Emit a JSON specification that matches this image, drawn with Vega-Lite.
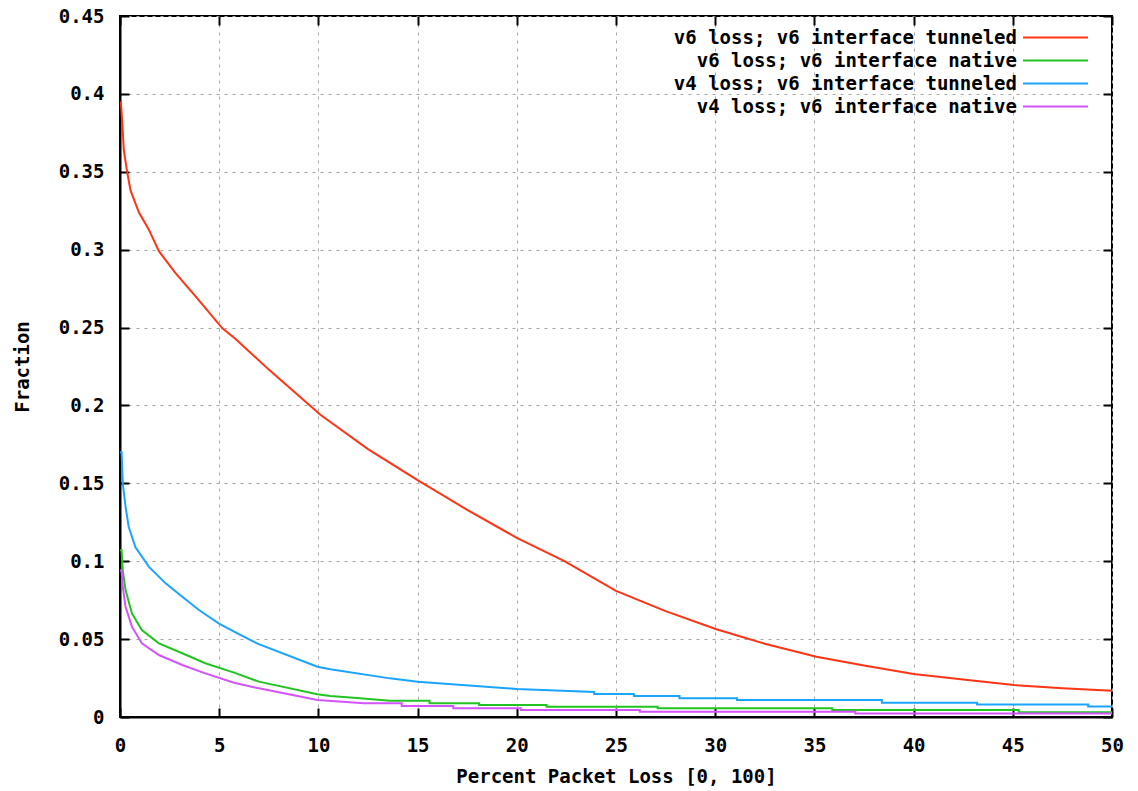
{
  "$schema": "https://vega.github.io/schema/vega-lite/v6.json",
  "autosize": {"type": "none"},
  "padding": {"left": 120, "top": 16, "right": 26, "bottom": 74},
  "width": 992,
  "height": 701,
  "background": "white",
  "config": {
    "view": {"stroke": "#000000", "strokeWidth": 2},
    "font": "DejaVu Sans Mono",
    "axis": {
      "labelFont": "DejaVu Sans Mono", "labelFontWeight": "bold", "labelFontSize": 19, "labelColor": "#000000",
      "titleFont": "DejaVu Sans Mono", "titleFontWeight": "bold", "titleFontSize": 19, "titleColor": "#000000",
      "domainColor": "#000000", "domainWidth": 2, "labelFlush": false,
      "tickColor": "#000000", "tickWidth": 2, "tickSize": -9,
      "gridColor": "#a8a8a8", "gridDash": [3, 5], "gridWidth": 1, "gridOpacity": 1
    },
    "legend": {
      "orient": "none", "legendX": 895, "legendY": 12, "padding": 0,
      "symbolType": "M-0.176,0H7.47", "symbolSize": 289, "symbolStrokeWidth": 2,
      "labelFont": "DejaVu Sans Mono", "labelFontWeight": "bold", "labelFontSize": 19, "labelColor": "#000000",
      "labelAlign": "right", "labelOffset": -17, "labelLimit": 600,
      "rowPadding": 3
    }
  },
  "data": {"values": [
    {"s": "v6 loss; v6 interface tunneled", "x": 0, "y": 0.395},
    {"s": "v6 loss; v6 interface tunneled", "x": 0.05, "y": 0.394},
    {"s": "v6 loss; v6 interface tunneled", "x": 0.14, "y": 0.376},
    {"s": "v6 loss; v6 interface tunneled", "x": 0.19, "y": 0.364},
    {"s": "v6 loss; v6 interface tunneled", "x": 0.36, "y": 0.35},
    {"s": "v6 loss; v6 interface tunneled", "x": 0.53, "y": 0.338},
    {"s": "v6 loss; v6 interface tunneled", "x": 0.95, "y": 0.324},
    {"s": "v6 loss; v6 interface tunneled", "x": 1.45, "y": 0.313},
    {"s": "v6 loss; v6 interface tunneled", "x": 1.96, "y": 0.299},
    {"s": "v6 loss; v6 interface tunneled", "x": 2.8, "y": 0.285},
    {"s": "v6 loss; v6 interface tunneled", "x": 3.81, "y": 0.27},
    {"s": "v6 loss; v6 interface tunneled", "x": 5.16, "y": 0.2495},
    {"s": "v6 loss; v6 interface tunneled", "x": 5.8, "y": 0.243},
    {"s": "v6 loss; v6 interface tunneled", "x": 7.5, "y": 0.223},
    {"s": "v6 loss; v6 interface tunneled", "x": 10.1, "y": 0.194},
    {"s": "v6 loss; v6 interface tunneled", "x": 12.5, "y": 0.172},
    {"s": "v6 loss; v6 interface tunneled", "x": 15, "y": 0.152},
    {"s": "v6 loss; v6 interface tunneled", "x": 17.5, "y": 0.133},
    {"s": "v6 loss; v6 interface tunneled", "x": 20, "y": 0.115},
    {"s": "v6 loss; v6 interface tunneled", "x": 22.4, "y": 0.1},
    {"s": "v6 loss; v6 interface tunneled", "x": 25, "y": 0.081},
    {"s": "v6 loss; v6 interface tunneled", "x": 27.5, "y": 0.068},
    {"s": "v6 loss; v6 interface tunneled", "x": 30.06, "y": 0.0563},
    {"s": "v6 loss; v6 interface tunneled", "x": 32.5, "y": 0.047},
    {"s": "v6 loss; v6 interface tunneled", "x": 35.1, "y": 0.0387},
    {"s": "v6 loss; v6 interface tunneled", "x": 37.5, "y": 0.033},
    {"s": "v6 loss; v6 interface tunneled", "x": 40, "y": 0.0276},
    {"s": "v6 loss; v6 interface tunneled", "x": 42.5, "y": 0.024},
    {"s": "v6 loss; v6 interface tunneled", "x": 45.05, "y": 0.0205},
    {"s": "v6 loss; v6 interface tunneled", "x": 47.5, "y": 0.0185},
    {"s": "v6 loss; v6 interface tunneled", "x": 50, "y": 0.0169},

    {"s": "v6 loss; v6 interface native", "x": 0, "y": 0.107},
    {"s": "v6 loss; v6 interface native", "x": 0.08, "y": 0.107},
    {"s": "v6 loss; v6 interface native", "x": 0.14, "y": 0.094},
    {"s": "v6 loss; v6 interface native", "x": 0.28, "y": 0.0815},
    {"s": "v6 loss; v6 interface native", "x": 0.6, "y": 0.0666},
    {"s": "v6 loss; v6 interface native", "x": 1.1, "y": 0.0558},
    {"s": "v6 loss; v6 interface native", "x": 1.96, "y": 0.0473},
    {"s": "v6 loss; v6 interface native", "x": 3.14, "y": 0.0409},
    {"s": "v6 loss; v6 interface native", "x": 4.3, "y": 0.0345},
    {"s": "v6 loss; v6 interface native", "x": 5.75, "y": 0.0285},
    {"s": "v6 loss; v6 interface native", "x": 7.0, "y": 0.0227},
    {"s": "v6 loss; v6 interface native", "x": 9.95, "y": 0.0146},
    {"s": "v6 loss; v6 interface native", "x": 10.6, "y": 0.0135},
    {"s": "v6 loss; v6 interface native", "x": 12.1, "y": 0.012},
    {"s": "v6 loss; v6 interface native", "x": 13.6, "y": 0.0105},
    {"s": "v6 loss; v6 interface native", "x": 15.6, "y": 0.0105},
    {"s": "v6 loss; v6 interface native", "x": 15.6, "y": 0.0088},
    {"s": "v6 loss; v6 interface native", "x": 18.1, "y": 0.0088},
    {"s": "v6 loss; v6 interface native", "x": 18.1, "y": 0.0077},
    {"s": "v6 loss; v6 interface native", "x": 21.5, "y": 0.0077},
    {"s": "v6 loss; v6 interface native", "x": 21.5, "y": 0.0066},
    {"s": "v6 loss; v6 interface native", "x": 27.1, "y": 0.0066},
    {"s": "v6 loss; v6 interface native", "x": 27.1, "y": 0.0056},
    {"s": "v6 loss; v6 interface native", "x": 35.9, "y": 0.0056},
    {"s": "v6 loss; v6 interface native", "x": 35.9, "y": 0.0045},
    {"s": "v6 loss; v6 interface native", "x": 45.3, "y": 0.0045},
    {"s": "v6 loss; v6 interface native", "x": 45.3, "y": 0.003},
    {"s": "v6 loss; v6 interface native", "x": 50, "y": 0.003},

    {"s": "v4 loss; v6 interface tunneled", "x": 0, "y": 0.17},
    {"s": "v4 loss; v6 interface tunneled", "x": 0.08, "y": 0.17},
    {"s": "v4 loss; v6 interface tunneled", "x": 0.14, "y": 0.15},
    {"s": "v4 loss; v6 interface tunneled", "x": 0.28, "y": 0.135},
    {"s": "v4 loss; v6 interface tunneled", "x": 0.44, "y": 0.122},
    {"s": "v4 loss; v6 interface tunneled", "x": 0.78, "y": 0.109},
    {"s": "v4 loss; v6 interface tunneled", "x": 1.45, "y": 0.0965},
    {"s": "v4 loss; v6 interface tunneled", "x": 2.3, "y": 0.0858},
    {"s": "v4 loss; v6 interface tunneled", "x": 3.14, "y": 0.0772},
    {"s": "v4 loss; v6 interface tunneled", "x": 3.98, "y": 0.0687},
    {"s": "v4 loss; v6 interface tunneled", "x": 4.99, "y": 0.06},
    {"s": "v4 loss; v6 interface tunneled", "x": 5.75, "y": 0.0548},
    {"s": "v4 loss; v6 interface tunneled", "x": 6.9, "y": 0.0473},
    {"s": "v4 loss; v6 interface tunneled", "x": 9.95, "y": 0.0323},
    {"s": "v4 loss; v6 interface tunneled", "x": 10.6, "y": 0.0306},
    {"s": "v4 loss; v6 interface tunneled", "x": 13.6, "y": 0.0248},
    {"s": "v4 loss; v6 interface tunneled", "x": 15, "y": 0.0227},
    {"s": "v4 loss; v6 interface tunneled", "x": 20, "y": 0.018},
    {"s": "v4 loss; v6 interface tunneled", "x": 23.9, "y": 0.016},
    {"s": "v4 loss; v6 interface tunneled", "x": 23.9, "y": 0.0148},
    {"s": "v4 loss; v6 interface tunneled", "x": 25.9, "y": 0.0148},
    {"s": "v4 loss; v6 interface tunneled", "x": 25.9, "y": 0.0135},
    {"s": "v4 loss; v6 interface tunneled", "x": 28.2, "y": 0.0135},
    {"s": "v4 loss; v6 interface tunneled", "x": 28.2, "y": 0.012},
    {"s": "v4 loss; v6 interface tunneled", "x": 31.1, "y": 0.012},
    {"s": "v4 loss; v6 interface tunneled", "x": 31.1, "y": 0.0109},
    {"s": "v4 loss; v6 interface tunneled", "x": 38.4, "y": 0.0109},
    {"s": "v4 loss; v6 interface tunneled", "x": 38.4, "y": 0.0092},
    {"s": "v4 loss; v6 interface tunneled", "x": 43.2, "y": 0.0092},
    {"s": "v4 loss; v6 interface tunneled", "x": 43.2, "y": 0.008},
    {"s": "v4 loss; v6 interface tunneled", "x": 48.8, "y": 0.008},
    {"s": "v4 loss; v6 interface tunneled", "x": 48.8, "y": 0.0068},
    {"s": "v4 loss; v6 interface tunneled", "x": 50, "y": 0.0068},

    {"s": "v4 loss; v6 interface native", "x": 0, "y": 0.094},
    {"s": "v4 loss; v6 interface native", "x": 0.08, "y": 0.094},
    {"s": "v4 loss; v6 interface native", "x": 0.14, "y": 0.0837},
    {"s": "v4 loss; v6 interface native", "x": 0.28, "y": 0.0708},
    {"s": "v4 loss; v6 interface native", "x": 0.6, "y": 0.058},
    {"s": "v4 loss; v6 interface native", "x": 1.1, "y": 0.0473},
    {"s": "v4 loss; v6 interface native", "x": 1.96, "y": 0.0398},
    {"s": "v4 loss; v6 interface native", "x": 3.14, "y": 0.0334},
    {"s": "v4 loss; v6 interface native", "x": 4.3, "y": 0.028},
    {"s": "v4 loss; v6 interface native", "x": 5.75, "y": 0.022},
    {"s": "v4 loss; v6 interface native", "x": 7.0, "y": 0.0184},
    {"s": "v4 loss; v6 interface native", "x": 9.95, "y": 0.0109},
    {"s": "v4 loss; v6 interface native", "x": 12.3, "y": 0.0088},
    {"s": "v4 loss; v6 interface native", "x": 14.2, "y": 0.0088},
    {"s": "v4 loss; v6 interface native", "x": 14.2, "y": 0.0071},
    {"s": "v4 loss; v6 interface native", "x": 16.8, "y": 0.0071},
    {"s": "v4 loss; v6 interface native", "x": 16.8, "y": 0.0056},
    {"s": "v4 loss; v6 interface native", "x": 20.2, "y": 0.0056},
    {"s": "v4 loss; v6 interface native", "x": 20.2, "y": 0.0045},
    {"s": "v4 loss; v6 interface native", "x": 26.2, "y": 0.0045},
    {"s": "v4 loss; v6 interface native", "x": 26.2, "y": 0.0034},
    {"s": "v4 loss; v6 interface native", "x": 37.06, "y": 0.0034},
    {"s": "v4 loss; v6 interface native", "x": 37.06, "y": 0.0022},
    {"s": "v4 loss; v6 interface native", "x": 50, "y": 0.0022}
  ]},
  "resolve": {"axis": {"x": "independent", "y": "independent"}},
  "layer": [
    {
      "mark": {"type": "line", "strokeWidth": 2, "clip": true},
      "encoding": {
        "x": {"field": "x", "type": "quantitative",
              "scale": {"domain": [0, 50], "nice": false, "zero": false},
              "axis": {"orient": "bottom", "values": [0, 5, 10, 15, 20, 25, 30, 35, 40, 45, 50], "format": "~g",
                       "grid": true, "labelPadding": 28, "title": "Percent Packet Loss [0, 100]", "titlePadding": 12}},
        "y": {"field": "y", "type": "quantitative",
              "scale": {"domain": [0, 0.45], "nice": false, "zero": false},
              "axis": {"orient": "left", "values": [0, 0.05, 0.1, 0.15, 0.2, 0.25, 0.3, 0.35, 0.4, 0.45], "format": "~g",
                       "grid": true, "labelPadding": 25, "title": "Fraction", "titlePadding": 26}},
        "color": {"field": "s", "type": "nominal",
                  "scale": {"domain": ["v6 loss; v6 interface tunneled", "v6 loss; v6 interface native", "v4 loss; v6 interface tunneled", "v4 loss; v6 interface native"],
                            "range": ["#ff3414", "#22c422", "#1aa3ff", "#d452ff"]},
                  "legend": {"title": null}}
      }
    },
    {
      "mark": {"type": "point", "opacity": 0},
      "encoding": {
        "x": {"field": "x", "type": "quantitative",
              "axis": {"orient": "top", "values": [0, 5, 10, 15, 20, 25, 30, 35, 40, 45, 50], "labels": false, "grid": false, "domain": false, "title": null}},
        "y": {"field": "y", "type": "quantitative",
              "axis": {"orient": "right", "values": [0, 0.05, 0.1, 0.15, 0.2, 0.25, 0.3, 0.35, 0.4, 0.45], "labels": false, "grid": false, "domain": false, "title": null}}
      }
    }
  ]
}
